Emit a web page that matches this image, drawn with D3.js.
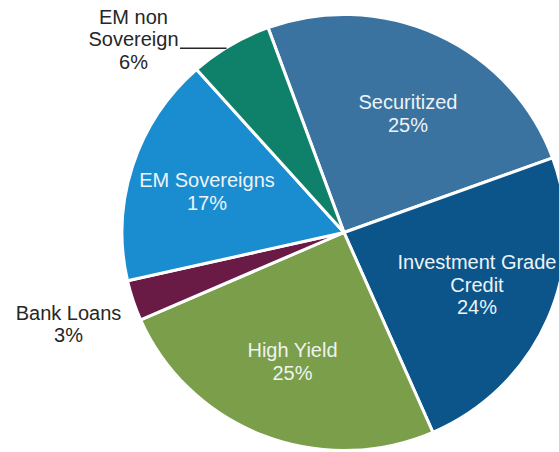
<!DOCTYPE html>
<html>
<head>
<meta charset="utf-8">
<script src="https://cdn.jsdelivr.net/npm/d3@7"></script>
<style>
  html, body { margin: 0; padding: 0; background: #ffffff; }
  svg { display: block; }
  text { font-family: "Liberation Sans", Arial, sans-serif; }
</style>
</head>
<body>
<svg id="chart" width="559" height="452"></svg>
<script>
// Sector allocation (percent of portfolio), clockwise from the top
const sectors = ["Securitized", "Investment Grade Credit", "High Yield", "Bank Loans", "EM Sovereigns", "EM non Sovereign"];
const weights = [25, 24, 25, 3, 17, 6];
const sliceColors = ["#3a72a0", "#0b558a", "#7a9e4a", "#691a45", "#1a8dd0", "#0f806a"];
// Label lines for each slice
const labelLines = [
  ["Securitized", "25%"],
  ["Investment Grade", "Credit", "24%"],
  ["High Yield", "25%"],
  ["Bank Loans", "3%"],
  ["EM Sovereigns", "17%"],
  ["EM non", "Sovereign", "6%"]
];

const svg = d3.select("#chart");
const cx = 344, cy = 232.5;
const radius = 218;
const xStretch = 222 / 218;

const pie = d3.pie()
  .sort(null)
  .value(d => d)
  .startAngle(-20 * Math.PI / 180)
  .endAngle(340 * Math.PI / 180);

const arcs = pie(weights);
const arc = d3.arc().innerRadius(0).outerRadius(radius);

const g = svg.append("g")
  .attr("transform", `translate(${cx},${cy}) scale(${xStretch},1)`);

g.selectAll("path.slice")
  .data(arcs)
  .join("path")
  .attr("class", "slice")
  .attr("d", arc)
  .attr("fill", (d, i) => sliceColors[i])
  .attr("stroke", "#ffffff")
  .attr("stroke-width", 3)
  .attr("stroke-linejoin", "round");

// Label anchor positions (centre x, first baseline y) and colour
const labelPos = [
  { x: 408, y: 109, fill: "#eef3f6" },
  { x: 477, y: 269, fill: "#eef3f6" },
  { x: 292.5, y: 357, fill: "#eef3f0" },
  { x: 68.5, y: 319.5, fill: "#262626" },
  { x: 207, y: 187, fill: "#eef3f6" },
  { x: 133.5, y: 23.5, fill: "#262626" }
];
const lineGap = 22.5;

labelLines.forEach((lines, i) => {
  const p = labelPos[i];
  const t = svg.append("text")
    .attr("text-anchor", "middle")
    .attr("font-size", 20)
    .attr("fill", p.fill);
  lines.forEach((s, k) => {
    t.append("tspan")
      .attr("x", p.x)
      .attr("y", p.y + k * lineGap)
      .text(s);
  });
});

// Leader line from the EM non Sovereign label to its slice
svg.append("line")
  .attr("x1", 180)
  .attr("y1", 48.3)
  .attr("x2", 226.5)
  .attr("y2", 48.3)
  .attr("stroke", "#262626")
  .attr("stroke-width", 1.4);
</script>
</body>
</html>
